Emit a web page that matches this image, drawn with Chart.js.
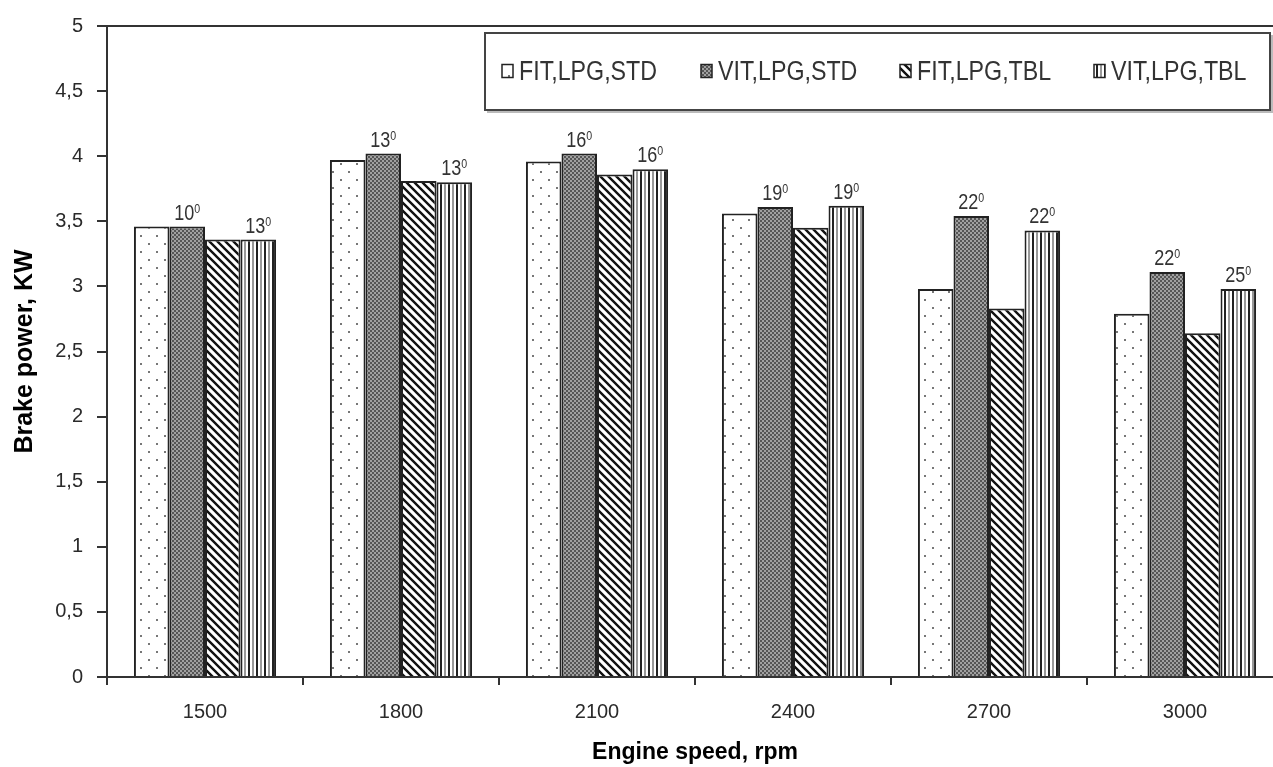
<!DOCTYPE html>
<html>
<head>
<meta charset="utf-8">
<script src="https://cdn.jsdelivr.net/npm/chart.js@4.4.1/dist/chart.umd.min.js"></script>
<style>
html, body { margin: 0; padding: 0; background: #fff; overflow: hidden; }
#wrap { position: relative; width: 1290px; height: 767px; }
</style>
</head>
<body>
<div id="wrap"><canvas id="powerChart" width="1290" height="767"></canvas></div>
<script>
// data
const speeds = ['1500', '1800', '2100', '2400', '2700', '3000'];
const fitStd = [3.46, 3.97, 3.96, 3.56, 2.98, 2.79];
const vitStd = [3.46, 4.02, 4.02, 3.61, 3.54, 3.11];
const fitTbl = [3.36, 3.81, 3.86, 3.45, 2.83, 2.64];
const vitTbl = [3.36, 3.80, 3.90, 3.62, 3.43, 2.98];
const vitStdAdvance = ['10', '13', '16', '19', '22', '22'];
const vitTblAdvance = ['13', '13', '16', '19', '22', '25'];
const yTickLabels = ['0', '0,5', '1', '1,5', '2', '2,5', '3', '3,5', '4', '4,5', '5'];
const seriesNames = ['FIT,LPG,STD', 'VIT,LPG,STD', 'FIT,LPG,TBL', 'VIT,LPG,TBL'];

const FONT = '"Liberation Sans", Arial, sans-serif';

function makePattern(kind) {
    const c = document.createElement('canvas');
    const g = c.getContext('2d');
    if (kind === 'dots') {
        c.width = 16; c.height = 16;
        g.fillStyle = '#fff'; g.fillRect(0, 0, 16, 16);
        g.fillStyle = '#777';
        g.fillRect(4, 3, 2, 2);
        g.fillRect(12, 11, 2, 2);
    } else if (kind === 'checker') {
        c.width = 4; c.height = 4;
        g.fillStyle = '#a0a0a0'; g.fillRect(0, 0, 4, 4);
        g.fillStyle = '#555';
        g.fillRect(0, 0, 2, 2);
        g.fillRect(2, 2, 2, 2);
    } else if (kind === 'diag') {
        c.width = 8; c.height = 8;
        g.fillStyle = '#fff'; g.fillRect(0, 0, 8, 8);
        g.strokeStyle = '#111'; g.lineWidth = 2.4;
        g.beginPath();
        for (let o = -8; o <= 8; o += 8) {
            g.moveTo(o - 1, -1); g.lineTo(o + 9, 9);
        }
        g.stroke();
    } else {
        c.width = 8; c.height = 1;
        g.fillStyle = '#fff'; g.fillRect(0, 0, 8, 1);
        g.fillStyle = '#222'; g.fillRect(0, 0, 2, 1);
        g.fillStyle = '#999'; g.fillRect(4, 0, 2, 1);
    }
    return g.createPattern(c, 'repeat');
}

const fills = [makePattern('dots'), makePattern('checker'), makePattern('diag'), makePattern('vert')];
const series = [fitStd, vitStd, fitTbl, vitTbl];

// text a bit narrower than the font, as in the scanned figure
function narrowText(ctx, text, x, y, sx) {
    ctx.save();
    ctx.translate(x, y);
    ctx.scale(sx, 1);
    ctx.fillText(text, 0, 0);
    ctx.restore();
}

// frame line along the top of the plot
const topLine = {
    id: 'topLine',
    beforeDatasetsDraw(chart) {
        const { ctx, chartArea } = chart;
        ctx.save();
        ctx.strokeStyle = '#333';
        ctx.lineWidth = 2;
        ctx.beginPath();
        ctx.moveTo(chartArea.left, chartArea.top);
        ctx.lineTo(chartArea.right, chartArea.top);
        ctx.stroke();
        ctx.restore();
    }
};

// ignition advance labels above VIT bars
const advanceLabels = {
    id: 'advanceLabels',
    afterDatasetsDraw(chart) {
        const ctx = chart.ctx;
        const sx = 0.82;
        ctx.save();
        ctx.fillStyle = '#333';
        ctx.textAlign = 'left';
        ctx.textBaseline = 'alphabetic';
        [[1, vitStdAdvance], [3, vitTblAdvance]].forEach(([di, labels]) => {
            chart.getDatasetMeta(di).data.forEach((bar, i) => {
                ctx.font = '22px ' + FONT;
                const w = ctx.measureText(labels[i]).width * sx;
                ctx.font = '13px ' + FONT;
                const sw = ctx.measureText('0').width * sx;
                const x0 = bar.x - (w + sw) / 2;
                const yb = bar.y - 7;
                ctx.font = '22px ' + FONT;
                narrowText(ctx, labels[i], x0, yb, sx);
                ctx.font = '13px ' + FONT;
                narrowText(ctx, '0', x0 + w, yb - 7, sx);
            });
        });
        ctx.restore();
    }
};

// boxed legend inside the plot
const boxLegend = {
    id: 'boxLegend',
    afterDraw(chart) {
        const ctx = chart.ctx;
        const box = { x: 485, y: 33, w: 785, h: 77 };
        ctx.save();
        ctx.fillStyle = '#fff';
        ctx.fillRect(box.x, box.y, box.w, box.h);
        ctx.strokeStyle = '#bbb';
        ctx.lineWidth = 2;
        ctx.beginPath();
        ctx.moveTo(box.x + 2, box.y + box.h + 2);
        ctx.lineTo(box.x + box.w + 2, box.y + box.h + 2);
        ctx.lineTo(box.x + box.w + 2, box.y + 2);
        ctx.stroke();
        ctx.strokeStyle = '#444';
        ctx.strokeRect(box.x, box.y, box.w, box.h);

        const swatchX = [502, 701, 900, 1094];
        const cy = box.y + box.h / 2;
        chart.data.datasets.forEach((ds, i) => {
            ctx.fillStyle = ds.backgroundColor;
            ctx.fillRect(swatchX[i], cy - 7, 11, 13);
            ctx.strokeStyle = '#222';
            ctx.lineWidth = 1.5;
            ctx.strokeRect(swatchX[i], cy - 7, 11, 13);
            ctx.fillStyle = '#333';
            ctx.font = '27px ' + FONT;
            ctx.textBaseline = 'middle';
            narrowText(ctx, ds.label, swatchX[i] + 17, cy + 1, 0.86);
        });
        ctx.restore();
    }
};

new Chart(document.getElementById('powerChart'), {
    type: 'bar',
    data: {
        labels: speeds,
        datasets: series.map((vals, i) => ({
            label: seriesNames[i],
            data: vals,
            backgroundColor: fills[i],
            borderColor: '#222',
            borderWidth: 2,
            categoryPercentage: 0.725,
            barPercentage: 1.0
        }))
    },
    options: {
        responsive: false,
        animation: false,
        devicePixelRatio: 1,
        layout: { padding: { top: 23, right: 7, left: 0, bottom: 0 } },
        plugins: {
            legend: { display: false },
            tooltip: { enabled: false }
        },
        scales: {
            x: {
                offset: true,
                grid: { display: true, offset: true, drawOnChartArea: false, tickLength: 8, color: '#333', lineWidth: 2 },
                border: { display: true, color: '#333', width: 2 },
                ticks: { color: '#2a2a2a', font: { family: FONT, size: 20 }, padding: 15, maxRotation: 0 },
                title: {
                    display: true, text: 'Engine speed, rpm', color: '#000',
                    font: { family: FONT, size: 23, weight: 'bold' }, padding: { top: 0, bottom: 1 }
                },
                afterFit(scale) { scale.height = 90; }
            },
            y: {
                min: 0, max: 5,
                ticks: {
                    stepSize: 0.5, color: '#2a2a2a', font: { family: FONT, size: 20 }, padding: 14,
                    callback: (v, i) => yTickLabels[i]
                },
                grid: { display: true, drawOnChartArea: false, tickLength: 10, color: '#333', lineWidth: 2 },
                border: { display: true, color: '#333', width: 2 },
                title: {
                    display: true, text: 'Brake power, KW', color: '#000',
                    font: { family: FONT, size: 25, weight: 'bold' }, padding: { top: 10 }
                },
                afterFit(scale) { scale.width = 107; }
            }
        }
    },
    plugins: [topLine, advanceLabels, boxLegend]
});
</script>
</body>
</html>
